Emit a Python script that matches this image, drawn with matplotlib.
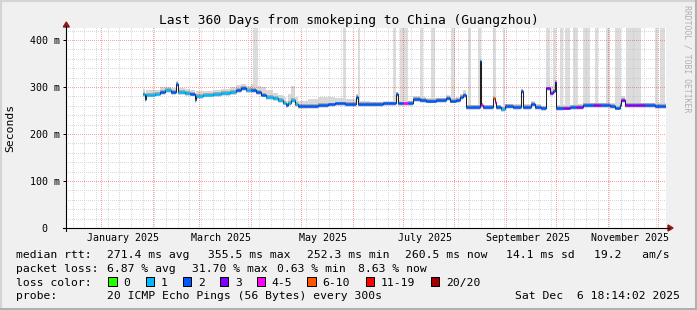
import matplotlib
matplotlib.use("Agg")
import matplotlib.pyplot as plt
import matplotlib.dates as mdates
from matplotlib.patches import Rectangle, Polygon
from matplotlib.lines import Line2D
import matplotlib.transforms as mtransforms
import numpy as np
import pandas as pd

# median rtt (ms), one entry per step change
med_time = ["2025-01-27", "2025-01-28", "2025-01-29", "2025-02-03", "2025-02-06",
            "2025-02-09", "2025-02-13", "2025-02-16", "2025-02-17", "2025-02-21",
            "2025-02-24", "2025-02-27", "2025-02-28", "2025-03-04", "2025-03-10",
            "2025-03-15", "2025-03-20", "2025-03-24", "2025-03-27", "2025-03-30",
            "2025-04-02", "2025-04-05", "2025-04-08", "2025-04-11", "2025-04-15",
            "2025-04-18", "2025-04-21", "2025-04-23", "2025-04-24", "2025-04-26",
            "2025-04-28", "2025-04-30", "2025-05-06", "2025-05-12", "2025-05-18",
            "2025-05-22", "2025-05-28", "2025-06-04", "2025-06-05", "2025-06-12",
            "2025-06-20", "2025-06-28", "2025-06-29", "2025-07-02", "2025-07-05",
            "2025-07-08", "2025-07-12", "2025-07-16", "2025-07-22", "2025-07-28",
            "2025-07-30", "2025-08-03", "2025-08-05", "2025-08-07", "2025-08-09",
            "2025-08-17", "2025-08-18", "2025-08-19", "2025-08-25", "2025-08-26",
            "2025-08-27", "2025-08-30", "2025-09-01", "2025-09-06", "2025-09-11",
            "2025-09-12", "2025-09-17", "2025-09-19", "2025-09-23", "2025-09-26",
            "2025-09-28", "2025-09-30", "2025-10-01", "2025-10-02", "2025-10-06",
            "2025-10-10", "2025-10-14", "2025-10-18", "2025-10-24", "2025-10-29",
            "2025-11-03", "2025-11-06", "2025-11-09", "2025-11-10", "2025-11-12",
            "2025-11-18", "2025-11-24", "2025-11-30", "2025-12-06 18:14"]
med_ms = [285, 274, 284, 286, 290, 293, 290, 306, 289, 287,
          286, 272, 281, 284, 285, 287, 290, 294, 298, 293,
          294, 289, 284, 279, 276, 272, 267, 261, 266, 273,
          264, 259, 260, 261, 263, 265, 264, 279, 264, 264,
          265, 285, 265, 265, 266, 274, 273, 271, 272, 276,
          271, 273, 278, 283, 257, 355.5, 262, 258, 276, 268,
          258, 253, 259, 258, 292, 258, 264, 258, 255, 297,
          287, 292, 311, 255, 256, 257, 258, 262, 262, 261,
          260, 256, 262, 272, 261, 262, 261, 260, 260.5]
# loss bucket per step (index into loss_labels)
med_loss = [1, 2, 1, 1, 2, 1, 2, 2, 1, 1,
            2, 1, 1, 1, 1, 1, 1, 2, 2, 1,
            2, 2, 2, 1, 1, 1, 1, 2, 1, 1,
            1, 2, 2, 2, 2, 2, 2, 2, 2, 2,
            2, 2, 2, 4, 2, 2, 2, 2, 2, 2,
            2, 2, 2, 2, 2, 2, 4, 2, 5, 4,
            2, 1, 2, 2, 2, 2, 2, 2, 2, 3,
            3, 2, 3, 2, 3, 2, 3, 2, 3, 2,
            2, 2, 2, 3, 3, 3, 2, 2, 2]
# how far the light smoke reaches above the median (ms)
smoke_up = [10, 8, 10, 8, 10, 8, 8, 6, 8, 8,
            8, 10, 10, 8, 8, 8, 10, 10, 8, 10,
            12, 14, 15, 15, 12, 12, 12, 10, 20, 30,
            15, 12, 15, 18, 15, 12, 10, 6, 6, 5,
            5, 4, 5, 5, 5, 6, 6, 5, 5, 6,
            5, 6, 8, 10, 4, 6, 4, 4, 6, 5,
            4, 4, 4, 6, 4, 5, 6, 5, 5, 15,
            15, 15, 15, 6, 5, 5, 6, 5, 5, 5,
            5, 5, 5, 8, 6, 5, 5, 5, 5]

# periods where the smoke runs off the top of the graph
gap_start = ["2025-04-03", "2025-05-27", "2025-06-05", "2025-06-26", "2025-06-30",
             "2025-07-12", "2025-07-19", "2025-07-31", "2025-08-10", "2025-08-16",
             "2025-08-25", "2025-08-31", "2025-09-26", "2025-09-30", "2025-10-04",
             "2025-10-07", "2025-10-12", "2025-10-18", "2025-10-25", "2025-11-01",
             "2025-11-06", "2025-11-13", "2025-11-30", "2025-12-03"]
gap_end = ["2025-04-06", "2025-05-29", "2025-06-06", "2025-06-28", "2025-07-05",
           "2025-07-14", "2025-07-21", "2025-08-02", "2025-08-12", "2025-08-18",
           "2025-08-27", "2025-09-01", "2025-09-28", "2025-10-02", "2025-10-06",
           "2025-10-10", "2025-10-15", "2025-10-22", "2025-10-27", "2025-11-03",
           "2025-11-10", "2025-11-22", "2025-12-02", "2025-12-06"]

loss_labels = ["0", "1", "2", "3", "4-5", "6-10", "11-19", "20/20"]
loss_colors = ["#26ff00", "#00b8ff", "#0059ff", "#7e00ff",
               "#ff00ff", "#ff5500", "#ff0000", "#a10000"]

y_ticks = [0, 100, 200, 300, 400]
y_tick_labels = ["0  ", "100 m", "200 m", "300 m", "400 m"]
x_label_months = ["2025-01-15", "2025-03-15", "2025-05-15",
                  "2025-07-15", "2025-09-15", "2025-11-15"]
x_label_text = ["January 2025", "March 2025", "May 2025",
                "July 2025", "September 2025", "November 2025"]

t_start = pd.Timestamp("2024-12-11 18:14:02")
t_end = pd.Timestamp("2025-12-06 18:14:02")
y_max = 425.5

W, H = 697, 310
PW, PH = 600, 200          # plot area in pixels
MONO = "DejaVu Sans Mono"


def fx(x):
    return x / W


def fy(y):
    return 1 - y / H


fig = plt.figure(figsize=(W / 100, H / 100), dpi=100, facecolor="#f0f0f0")
ax = fig.add_axes([fx(66), fy(228), PW / W, PH / H])
ax.set_facecolor("white")
ax.set_xlim(t_start, t_end)
ax.set_ylim(0, y_max)
for s in ax.spines.values():
    s.set_visible(False)

t = pd.to_datetime(med_time, format="mixed")
med = np.array(med_ms, dtype=float)
up = np.array(smoke_up, dtype=float)
med_series = pd.Series(med, index=t)

# smoke runs off the top
for gs, ge in zip(gap_start, gap_end):
    gs, ge = pd.Timestamp(gs), pd.Timestamp(ge)
    base = med_series.asof(gs) - 3
    ax.fill_between([gs, ge], base, y_max, color="#dcdcdc", lw=0, zorder=1)

# smoke around the median
ax.fill_between(t, med - 6, med + up, step="post", color="#d8d8d8", lw=0, zorder=2)
ax.fill_between(t, med - 4, med + 4, step="post", color="#a8a8a8", lw=0, zorder=2)

# grid as a pixel-exact dotted overlay (1px on, 1px off)
grid = np.zeros((PH, PW, 4))
minor_rgba = (0.75, 0.75, 0.75, 0.6)
major_rgba = (1.0, 0.0, 0.0, 0.38)
span = (t_end - t_start).total_seconds()


def col_of(d):
    return int(round((d - t_start).total_seconds() / span * PW))


def row_of(v):
    return int(round((y_max - v) / y_max * PH))


for v in range(20, 425, 20):
    if v % 100:
        grid[row_of(v), ::2] = minor_rgba
for d in pd.date_range(t_start, t_end, freq="W-SUN"):
    if d.day != 1 and 0 <= col_of(d) < PW:
        grid[::2, col_of(d)] = minor_rgba
for v in y_ticks[1:]:
    grid[row_of(v), ::2] = major_rgba
for d in pd.date_range(t_start, t_end, freq="MS"):
    if 0 <= col_of(d) < PW:
        grid[::2, col_of(d)] = major_rgba
ax.imshow(grid, extent=(mdates.date2num(t_start), mdates.date2num(t_end), 0, y_max),
          aspect="auto", interpolation="nearest", zorder=3)

# median line: thin dark step, coloured by loss
ax.step(t, med, where="post", color="#202020", lw=0.75, zorder=4)
for i in range(len(t) - 1):
    ax.hlines(med[i], t[i], t[i + 1], color=loss_colors[med_loss[i]],
              lw=1.8, zorder=5)

ax.set_xlim(t_start, t_end)
ax.set_ylim(0, y_max)

# axes ticks and labels
ax.set_xticks([])
ax.set_yticks(y_ticks)
ax.set_yticklabels(y_tick_labels, family=MONO, fontsize=7.2)
ax.tick_params(axis="y", length=2.2, width=0.72, pad=2.4, color="black")
trans = mtransforms.blended_transform_factory(ax.transData, ax.transAxes)
for m, lab in zip(x_label_months, x_label_text):
    ax.text(pd.Timestamp(m), -0.065, lab, transform=trans, ha="center",
            va="baseline", family=MONO, fontsize=7.2)

# axis lines with arrow heads
fig.add_artist(Line2D([fx(63), fx(669)], [fy(228), fy(228)], color="black", lw=0.8))
fig.add_artist(Line2D([fx(66.3), fx(66.3)], [fy(231), fy(26)], color="black", lw=0.8))
fig.add_artist(Polygon([[fx(668), fy(225)], [fx(673), fy(228)], [fx(668), fy(231)]],
                       closed=True, color="#8b1a1a"))
fig.add_artist(Polygon([[fx(63.3), fy(27)], [fx(66.3), fy(22)], [fx(69.3), fy(27)]],
                       closed=True, color="#8b1a1a"))

# titles
fig.text(fx(348.5), fy(24), "Last 360 Days from smokeping to China (Guangzhou)",
         ha="center", va="baseline", family=MONO, fontsize=9.3)
fig.text(fx(10), fy(128), "Seconds", rotation=90, ha="center", va="center",
         family=MONO, fontsize=8.2)
fig.text(fx(687.5), fy(59), "RRDTOOL / TOBI OETIKER", rotation=270, ha="center",
         va="center", family=MONO, fontsize=5.9, color="#b0b0b0")

# legend block
lf = dict(family=MONO, fontsize=8.2, va="baseline")
fig.text(fx(16), fy(258.3), "median rtt:", **lf)
fig.text(fx(107.3), fy(258.3), "271.4 ms avg", **lf)
fig.text(fx(208.3), fy(258.3), "355.5 ms max", **lf)
fig.text(fx(306.7), fy(258.3), "252.3 ms min", **lf)
fig.text(fx(405), fy(258.3), "260.5 ms now", **lf)
fig.text(fx(505.5), fy(258.3), "14.1 ms sd", **lf)
fig.text(fx(594.5), fy(258.3), "19.2   am/s", **lf)

fig.text(fx(16), fy(271.7), "packet loss:", **lf)
fig.text(fx(107.3), fy(271.7), "6.87 % avg", **lf)
fig.text(fx(191.7), fy(271.7), "31.70 % max", **lf)
fig.text(fx(276.7), fy(271.7), "0.63 % min", **lf)
fig.text(fx(358.3), fy(271.7), "8.63 % now", **lf)

fig.text(fx(16), fy(285.7), "loss color:", **lf)
box_x = [108.3, 145.7, 182.7, 220, 256.7, 307.3, 365.7, 430.7]
for bx, lab, col in zip(box_x, loss_labels, loss_colors):
    fig.add_artist(Rectangle((fx(bx), fy(286)), 8.5 / W, 9.5 / H,
                             facecolor=col, edgecolor="black", lw=0.72))
    fig.text(fx(bx + 15), fy(285.7), lab, **lf)

fig.text(fx(16), fy(299), "probe:", **lf)
fig.text(fx(107.3), fy(299), "20 ICMP Echo Pings (56 Bytes) every 300s", **lf)
fig.text(fx(680), fy(299), "Sat Dec  6 18:14:02 2025", ha="right",
         family=MONO, fontsize=8.2, va="baseline")

# 3d frame around the image
fig.add_artist(Line2D([0, 1], [fy(1), fy(1)], color="#d4d4d4", lw=1.5))
fig.add_artist(Line2D([fx(1), fx(1)], [0, 1], color="#d4d4d4", lw=1.5))
fig.add_artist(Line2D([0, 1], [fy(308.5), fy(308.5)], color="#b0b0b0", lw=2.2))
fig.add_artist(Line2D([fx(695.5), fx(695.5)], [0, 1], color="#b0b0b0", lw=2.2))

fig.savefig("out.png", dpi=100, facecolor=fig.get_facecolor())
